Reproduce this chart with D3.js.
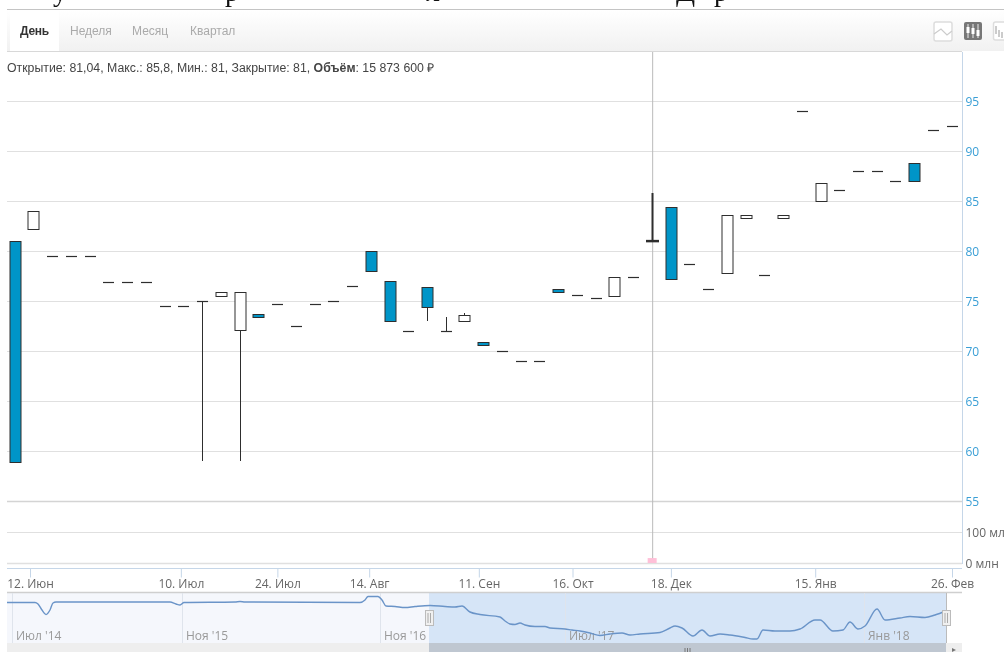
<!DOCTYPE html>
<html><head><meta charset="utf-8">
<script src="https://cdn.jsdelivr.net/npm/d3@7/dist/d3.min.js"></script>
<style>
html,body{margin:0;padding:0;background:#fff;overflow:hidden}
svg{display:block;filter:blur(0.35px)}
text{font-family:"Liberation Sans",Arial,sans-serif}
.ax text{font-family:"Open Sans",sans-serif}
</style></head><body>
<svg id="c" width="1004" height="652"></svg>
<script>
const opens =[81,82.2,79.5,79.5,79.5,76.9,76.9,76.9,74.5,74.5,75,75.5,72.1,73.6,74.7,72.5,74.7,75,76.5,80,77,72,76.4,72,73,70.8,70,69,69,76.2,75.6,75.3,75.5,77.4,81.04,84.4,78.7,76.2,77.8,83.3,77.6,83.3,94,85,86.1,88,88,87,88.8,92.1,92.5];
const closes=[58.9,84,79.5,79.5,79.5,76.9,76.9,76.9,74.5,74.5,75,75.9,75.9,73.5,74.7,72.5,74.7,75,76.5,78,73,72,74.4,72,73.6,70.7,70,69,69,75.9,75.6,75.3,77.4,77.4,81,77.2,78.7,76.2,83.6,83.6,77.6,83.6,94,86.8,86.1,88,88,87,87,92.1,92.5];
const highs =[81,84,79.5,79.5,79.5,76.9,76.9,76.9,74.5,74.5,75,75.9,75.9,73.6,74.7,72.5,74.7,75,76.5,80,77,72,76.4,73.4,73.8,70.8,70,69,69,76.2,75.6,75.3,77.4,77.4,85.8,84.4,78.7,76.2,83.6,83.6,77.6,83.6,94,86.8,86.1,88,88,87,88.8,92.1,92.5];
const lows  =[58.9,82.2,79.5,79.5,79.5,76.9,76.9,76.9,74.5,74.5,59,75.5,59,73.5,74.7,72.5,74.7,75,76.5,78,73,72,73,72,73,70.7,70,69,69,75.9,75.6,75.3,75.5,77.4,81,77.2,78.7,76.2,77.8,83.3,77.6,83.3,94,85,86.1,88,88,87,87,92.1,92.5];
const activeIndex=34;
const activeVolume=15.8736;
const priceTicks=[55,60,65,70,75,80,85,90,95];
const volumeTicks=[0,100];
const dateTickPos=[0.8,8.85,14,18.9,24.75,29.75,35,42.7,50];
const dateTickLabels=["12. Июн","10. Июл","24. Июл","14. Авг","11. Сен","16. Окт","18. Дек","15. Янв","26. Фев"];
const navT=[0,28,31,35,39,43,46,49,163,169,173,177,228,233,238,353,358,361,371,375,379,388,398,408,423,438,448,455,463,473,493,498,503,508,513,518,528,538,543,558,565,573,583,593,603,615,623,633,653,663,668,675,686,695,703,713,723,738,746,750,756,768,783,793,808,813,826,836,843,851,858,870,878,893,903,918,928,939];
const navP=[37.5,37.5,36,30,25.5,30,37,38,38,36,35,37.5,38,38.5,38,37.5,40,43.5,43.5,40,34,33.5,32.5,33.5,34.5,33.5,33,34,28,25.5,23,19,16,15.5,17,15,13.5,13.5,12,11,10,9,7,4.5,6,7,5,6,7.5,12,14,12,4,10,4,6,5,2.5,1,1,10,9,9,11,20,20,9,10,18,11,14,31,20,22,23.5,22.5,25,29];
const navTickT=[5,175,373,558,857];
const navTickLabels=["Июл '14","Ноя '15","Ноя '16","Июл '17","Янв '18"];
const selStartT=422;
const tabs=["День","Неделя","Месяц","Квартал"];
const cutLetters=["у","р","л","Д","р"];

const svg=d3.select("#c");
const W=1004;
const x=d3.scaleLinear().domain([0,50]).range([15,952]);
const y=d3.scaleLinear().domain([55,95]).range([501,101]);
const yv=d3.scaleLinear().domain([0,100]).range([563,532]);
const nx=d3.scaleLinear().domain([0,939]).range([7,946]);
const ny=d3.scaleLinear().domain([0,50]).range([640,590]);
const BLUE="#0095c8",INK="#2e2e2e";

// cut-off line of text above the widget
svg.append("g").selectAll("text").data(cutLetters).join("text")
 .attr("x",(d,i)=>[53,225,426,676,714][i]).attr("y",1)
 .style("font-family","'Liberation Serif',serif").style("font-size","28px").attr("fill","#111").text(d=>d);

// toolbar
const defs=svg.append("defs");
const g=defs.append("linearGradient").attr("id","tb").attr("x2",0).attr("y2",1);
g.append("stop").attr("offset",0).attr("stop-color","#fff");
g.append("stop").attr("offset",1).attr("stop-color","#f1f1f1");
svg.append("rect").attr("x",7).attr("y",10).attr("width",W-7).attr("height",41).attr("fill","url(#tb)");
svg.append("rect").attr("x",10).attr("y",10).attr("width",49).attr("height",41).attr("fill","#fff");
svg.append("line").attr("x1",7).attr("x2",W).attr("y1",9.5).attr("y2",9.5).attr("stroke","#c4c4c4");
svg.append("line").attr("x1",7).attr("x2",962).attr("y1",51.5).attr("y2",51.5).attr("stroke","#d8d8d8");
svg.append("g").selectAll("text").data(tabs).join("text")
 .attr("x",(d,i)=>[20,70,132,190][i]).attr("y",35).style("font-size","12px")
 .attr("fill",(d,i)=>i?"#aaa":"#333").style("font-weight",(d,i)=>i?"normal":"bold").text(d=>d)
 .style("letter-spacing",(d,i)=>i?"0":"-0.3px");

// toolbar icons
const ic=svg.append("g");
ic.append("rect").attr("x",934).attr("y",22).attr("width",18).attr("height",19).attr("rx",2).attr("fill","#fff").attr("stroke","#ddd").attr("stroke-width",1.5);
ic.append("path").attr("d",d3.line()([[934,34],[941,29],[947,35],[952,31]])).attr("fill","none").attr("stroke","#ccc").attr("stroke-width",1.2);
ic.append("rect").attr("x",964).attr("y",22).attr("width",18).attr("height",18).attr("rx",2).attr("fill","#777");
[968,973,978].forEach((cx,i)=>{
 ic.append("line").attr("x1",cx).attr("x2",cx).attr("y1",24).attr("y2",38).attr("stroke","#eee");
 ic.append("rect").attr("x",cx-1.5).attr("y",[27,28,30][i]).attr("width",3).attr("height",6).attr("fill","#fff");
});
ic.append("rect").attr("x",993.5).attr("y",22).attr("width",18).attr("height",18).attr("rx",2).attr("fill","#fff").attr("stroke","#ddd").attr("stroke-width",1.5);
ic.append("path").attr("d","M996 26V34M999 30V37M1002 32V38").attr("stroke","#999").attr("fill","none");

// info line
const info=svg.append("text").attr("x",7).attr("y",72).style("font-size","12.3px").attr("fill","#444");
info.append("tspan").text("Открытие: 81,04, Макс.: 85,8, Мин.: 81, Закрытие: 81, ");
info.append("tspan").style("font-weight","bold").text("Объём");
info.append("tspan").text(": 15 873 600 ₽");

// grid
svg.append("g").selectAll("line").data(priceTicks).join("line")
 .attr("x1",7).attr("x2",962).attr("y1",d=>y(d)+.5).attr("y2",d=>y(d)+.5)
 .attr("stroke",d=>d===55?"#d4d4d4":"#e0e0e0").attr("stroke-width",d=>d===55?1.6:1.1);
svg.append("g").selectAll("line").data(volumeTicks).join("line")
 .attr("x1",7).attr("x2",962).attr("y1",d=>yv(d)+.5).attr("y2",d=>yv(d)+.5)
 .attr("stroke","#e0e0e0").attr("stroke-width",d=>d===0?1.6:1.1);

// right axes
const ya=svg.append("g").attr("class","ax").attr("transform","translate(962.5,0)")
 .call(d3.axisRight(y).tickValues(priceTicks).tickSize(0).tickPadding(3));
ya.select(".domain").remove();
ya.selectAll("text").style("font-size","12px").attr("fill","#3a9fd6").attr("dy","0.35em");
const yb=svg.append("g").attr("class","ax").attr("transform","translate(962.5,0)")
 .call(d3.axisRight(yv).tickValues(volumeTicks).tickSize(0).tickPadding(3).tickFormat(d=>d+" млн"));
yb.select(".domain").remove();
yb.selectAll("text").style("font-size","12px").attr("fill","#666").attr("dy","0.35em");
svg.append("line").attr("x1",962.5).attr("x2",962.5).attr("y1",52).attr("y2",564).attr("stroke","#c5d6e8");

// crosshair + volume
svg.append("line").attr("x1",x(activeIndex)+.5).attr("x2",x(activeIndex)+.5).attr("y1",52).attr("y2",563).attr("stroke","#bbb");
svg.append("rect").attr("x",x(activeIndex)-4.5).attr("width",9).attr("y",yv(activeVolume)).attr("height",yv(0)-yv(activeVolume)).attr("fill","#ffc0d8");

// candles
const candles=d3.range(opens.length);
const cg=svg.append("g").selectAll("g").data(candles).join("g");
const cx=i=>Math.round(x(i)-.3);
cg.append("line").attr("x1",i=>cx(i)+.5).attr("x2",i=>cx(i)+.5)
 .attr("y1",i=>y(highs[i])).attr("y2",i=>y(lows[i])).attr("stroke",INK).attr("stroke-width",i=>i===activeIndex?2:1);
cg.filter(i=>Math.abs(opens[i]-closes[i])<.05).append("line")
 .attr("x1",i=>cx(i)-(i===activeIndex?6:5)).attr("x2",i=>cx(i)+(i===activeIndex?7:6))
 .attr("y1",i=>y(opens[i])+.5).attr("y2",i=>y(opens[i])+.5).attr("stroke",INK).attr("stroke-width",i=>i===activeIndex?2.5:1.2);
cg.filter(i=>Math.abs(opens[i]-closes[i])>=.05).append("rect")
 .attr("x",i=>cx(i)-5).attr("width",11)
 .attr("y",i=>Math.round(y(Math.max(opens[i],closes[i])))+.5-(Math.abs(opens[i]-closes[i])<.2?1:0))
 .attr("height",i=>Math.max(3,Math.round(Math.abs(y(opens[i])-y(closes[i])))))
 .attr("fill",i=>closes[i]>opens[i]?"#fff":BLUE).attr("stroke",INK);

// date axis
const xa=svg.append("g").attr("class","ax").attr("transform","translate(0,568.5)")
 .call(d3.axisBottom(x).tickValues(dateTickPos).tickSize(9).tickPadding(2).tickFormat((d,i)=>dateTickLabels[i]));
xa.select(".domain").remove();
xa.selectAll("line").attr("stroke","#c5d6e8");
xa.selectAll("text").style("font-size","12px").attr("fill","#666");
svg.append("line").attr("x1",7).attr("x2",962).attr("y1",568.5).attr("y2",568.5).attr("stroke","#c5d6e8");

// navigator
const bottom=643;
svg.append("rect").attr("x",nx(0)).attr("y",593).attr("width",nx(selStartT)-nx(0)).attr("height",bottom-593).attr("fill","#f5f7fc");
svg.append("rect").attr("x",nx(selStartT)).attr("y",593).attr("width",nx(939)-nx(selStartT)).attr("height",bottom-593).attr("fill","#d6e5f7");
svg.append("line").attr("x1",7).attr("x2",962).attr("y1",592.5).attr("y2",592.5).attr("stroke","#cfcfcf").attr("stroke-width",1.5);
svg.append("g").selectAll("line").data(navTickT).join("line")
 .attr("x1",d=>nx(d)+.5).attr("x2",d=>nx(d)+.5).attr("y1",593).attr("y2",bottom).attr("stroke","#dfe4ec");
svg.append("g").selectAll("text").data(navTickLabels).join("text").attr("class","nl")
 .attr("x",(d,i)=>nx(navTickT[i])+4).attr("y",640)
 .style("font-family","'Open Sans',sans-serif").style("font-size","12px").attr("fill","#999").text(d=>d);
svg.append("path").attr("fill","none").attr("stroke","#6a94c8").attr("stroke-width",1.4)
 .attr("d",d3.line().x((d,i)=>nx(navT[i])).y(d=>ny(d)).curve(d3.curveMonotoneX)(navP));
svg.append("rect").attr("x",nx(0)).attr("y",bottom).attr("width",nx(selStartT)-nx(0)).attr("height",9).attr("fill","#eee");
svg.append("rect").attr("x",nx(selStartT)).attr("y",bottom).attr("width",nx(939)-nx(selStartT)).attr("height",9).attr("fill","#bfc7d1");
svg.append("rect").attr("x",nx(939)).attr("y",bottom).attr("width",16).attr("height",9).attr("fill","#eee");
svg.append("path").attr("d",d3.line()([[952,648],[956,650],[952,652]])).attr("fill","#777");
svg.append("path").attr("d","M685 648V652M687.5 648V652M690 648V652").attr("stroke","#777");
svg.append("line").attr("x1",nx(939)+.5).attr("x2",nx(939)+.5).attr("y1",593).attr("y2",bottom).attr("stroke","#bbb");
[selStartT,939].forEach(t=>{
 const h=svg.append("g").attr("transform",`translate(${nx(t)},0)`);
 h.append("rect").attr("x",-3.5).attr("y",610.5).attr("width",8).attr("height",15).attr("fill","#f0f0f0").attr("stroke","#bbb");
 h.append("path").attr("d","M-1 613V623M1.5 613V623").attr("stroke","#aaa");
});
</script></body></html>
